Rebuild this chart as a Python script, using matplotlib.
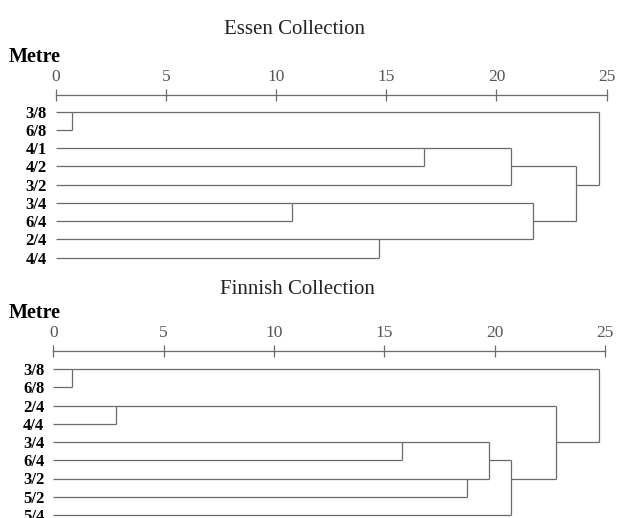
import matplotlib
matplotlib.use("Agg")
import matplotlib.pyplot as plt

# ---------------- data ----------------
essen_labels = ['3/8', '6/8', '4/1', '4/2', '3/2', '3/4', '6/4', '2/4', '4/4']
# merges: (cluster a, cluster b, distance); new clusters numbered from len(labels)
essen_a = [0, 2, 10, 5, 7, 12, 11, 9]
essen_b = [1, 3, 4, 6, 8, 13, 14, 15]
essen_d = [0.75, 16.69, 20.66, 10.7, 14.66, 21.64, 23.6, 24.63]

finnish_labels = ['3/8', '6/8', '2/4', '4/4', '3/4', '6/4', '3/2', '5/2', '5/4']
finnish_a = [0, 2, 4, 6, 11, 13, 10, 9]
finnish_b = [1, 3, 5, 7, 12, 8, 14, 15]
finnish_d = [0.86, 2.83, 15.78, 18.76, 19.76, 20.74, 22.78, 24.74]

ticks = [0, 5, 10, 15, 20, 25]
titles = ['Essen Collection', 'Finnish Collection']

W, H = 617, 518
LINE = '#6a6a6a'
SERIF = ['Liberation Serif', 'DejaVu Serif']

fig = plt.figure(figsize=(W / 100, H / 100), dpi=100)


def dendro(ax, labels, a_list, b_list, d_list):
    n = len(labels)
    pos = {i: float(i) for i in range(n)}
    hgt = {i: 0.0 for i in range(n)}
    for k, (a, b, d) in enumerate(zip(a_list, b_list, d_list)):
        ya, yb = pos[a], pos[b]
        ax.plot([hgt[a], d], [ya, ya], color=LINE, lw=0.9, solid_capstyle='butt')
        ax.plot([hgt[b], d], [yb, yb], color=LINE, lw=0.9, solid_capstyle='butt')
        ax.plot([d, d], [ya, yb], color=LINE, lw=0.9, solid_capstyle='butt')
        new = n + k
        pos[new] = float(int((ya + yb) // 2))
        hgt[new] = d
    ax.set_yticks(range(n))
    ax.set_yticklabels(labels, fontfamily=SERIF, fontweight='bold', fontsize=12)
    ax.tick_params(axis='y', length=0, pad=6.5)


def make_panel(x0, x25, y_row0, row_h, axis_y, labels, a_list, b_list, d_list,
               title, title_x, title_y, metre_y):
    top_row = (axis_y - y_row0) / row_h
    bot_row = 8.6
    px_top = axis_y
    px_bot = y_row0 + bot_row * row_h
    ax = fig.add_axes([x0 / W, 1 - px_bot / H, (x25 - x0) / W, (px_bot - px_top) / H])
    dendro(ax, labels, a_list, b_list, d_list)
    ax.set_xlim(0, 25)
    ax.set_ylim(bot_row, top_row)
    for s in ['left', 'right', 'bottom']:
        ax.spines[s].set_visible(False)
    ax.spines['top'].set_color(LINE)
    ax.spines['top'].set_linewidth(0.9)
    ax.xaxis.tick_top()
    ax.set_xticks(ticks)
    ax.set_xticklabels([str(t) for t in ticks], fontfamily=SERIF, fontsize=12.5, color='#555555')
    ax.tick_params(axis='x', direction='inout', length=8, width=0.9, color=LINE, pad=3)
    ax.set_facecolor('none')
    fig.text(title_x / W, 1 - title_y / H, title, ha='center', va='center',
             fontfamily=SERIF, fontsize=15, color='#222222')
    fig.text(9 / W, 1 - metre_y / H, 'Metre', ha='left', va='center',
             fontfamily=SERIF, fontsize=14.5, fontweight='bold')
    return ax


make_panel(55.7, 606.7, 111.7, 18.25, 95.0, essen_labels, essen_a, essen_b, essen_d,
           titles[0], 295, 29, 57)
make_panel(53.3, 605.0, 369.0, 18.25, 350.7, finnish_labels, finnish_a, finnish_b, finnish_d,
           titles[1], 297, 289, 313)

fig.savefig('out.png', dpi=100)
